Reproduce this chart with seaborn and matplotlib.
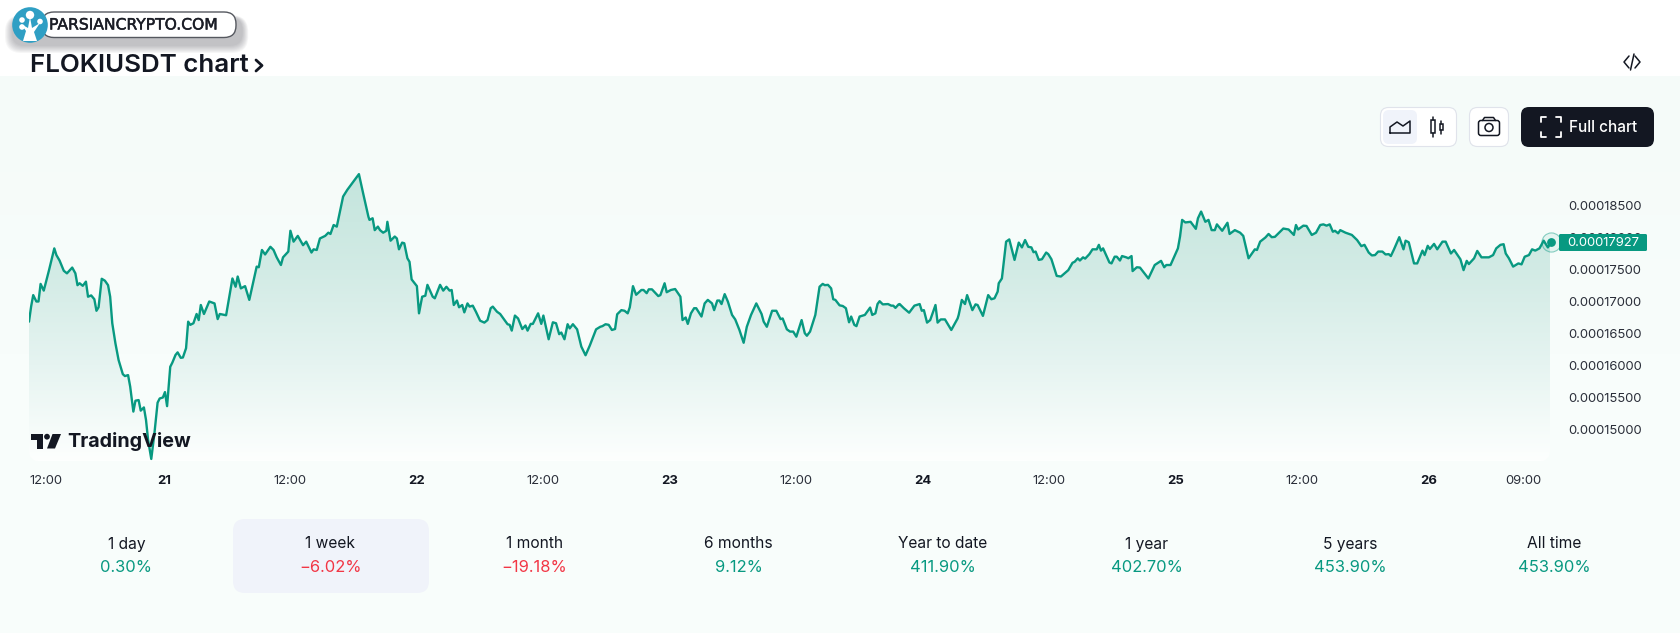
import matplotlib
matplotlib.use('Agg')
import matplotlib.pyplot as plt
import matplotlib.patches as mpatches
import matplotlib.patheffects as pe
from matplotlib.colors import LinearSegmentedColormap, to_rgba
from matplotlib.transforms import ScaledTranslation
import numpy as np
import pandas as pd
import seaborn as sns

# hours counted from the 21st 00:00, prices in 1e-8 USDT
hours = [
    -12.8, -12.6, -12.4, -12.1, -11.9, -11.7, -11.4, -10.9, -10.4, -10.2, -9.9, -9.5, -9.2, -8.7, -8.4, -8.2,
    -8.0, -7.7, -7.4, -7.2, -6.9, -6.6, -6.4, -6.2, -5.9, -5.6, -5.3, -5.1, -4.9, -4.6, -4.3, -3.9,
    -3.7, -3.4, -3.2, -2.9, -2.7, -2.4, -2.2, -1.9, -1.7, -1.5, -1.2, -0.9, -0.6, -0.4, -0.1, 0.1,
    0.3, 0.6, 0.8, 1.1, 1.3, 1.6, 1.8, 2.1, 2.3, 2.5, 2.8, 3.1, 3.3, 3.5, 3.8, 4.3,
    4.8, 5.1, 5.3, 5.9, 6.5, 6.8, 7.0, 7.3, 7.7, 8.1, 8.8, 9.0, 9.3, 9.6, 10.1, 10.4,
    10.7, 11.1, 11.3, 11.8, 12.0, 12.3, 12.7, 13.2, 13.5, 14.0, 14.2, 14.5, 14.8, 15.3, 15.6, 15.8,
    16.1, 16.4, 16.8, 17.0, 17.4, 18.5, 18.9, 19.4, 19.5, 19.8, 20.0, 20.3, 20.5, 20.8, 21.1, 21.2,
    21.5, 21.9, 22.1, 22.3, 22.6, 22.8, 23.1, 23.3, 23.5, 24.0, 24.2,
    24.5, 24.8, 25.0, 25.5, 25.7, 26.2, 26.5, 26.8, 27.1, 27.3, 27.5, 27.8, 28.0, 28.3, 28.5, 28.8,
    29.0, 29.3, 29.6, 30.0, 30.4, 30.7, 31.0, 31.2, 31.6, 31.9, 32.6, 32.8, 33.0, 33.3, 33.6, 34.0,
    34.3, 34.5, 34.8, 35.0, 35.5, 35.8, 36.0, 36.2, 36.5, 36.9, 37.2, 37.5, 37.7, 38.0, 38.3, 38.5,
    38.8, 39.2, 39.6, 40.0, 40.4, 41.0, 41.4, 41.6, 41.9, 42.2, 42.5, 42.8, 43.0, 43.4, 43.7, 44.0,
    44.2, 44.5, 44.8, 45.3, 45.5, 45.8, 46.0, 46.3, 46.9, 47.1, 47.5, 47.7, 48.1, 48.5, 49.0, 49.2,
    49.5, 49.7, 50.0, 50.3, 50.5, 51.0, 51.3, 51.6, 52.0, 52.2, 52.5, 52.7, 52.9, 53.2, 53.5, 53.9,
    54.2, 54.6, 55.0, 55.3, 55.7, 56.2, 56.7, 56.9, 57.2, 57.7, 58.1, 58.5, 58.7, 59.1, 59.4, 59.7,
    60.0, 60.5, 60.8, 61.0, 61.3, 61.8, 62.2, 62.5, 62.7, 63.0, 63.3, 63.5, 63.7, 64.1, 64.4, 64.7,
    65.0, 65.2, 65.5, 65.7, 66.0, 66.5, 67.0, 67.2, 67.5, 67.7, 67.9, 68.2, 68.7, 69.0, 69.2, 69.4,
    69.7, 69.8,
    70.2, 70.7, 71.2, 71.7, 71.9, 72.1, 72.4, 72.7, 73.2, 73.4, 73.7, 74.1, 74.7, 75.3, 75.4, 75.7,
    76.0, 76.2, 76.7, 77.0, 77.2, 77.7, 78.2, 78.5, 78.8, 79.1, 79.2, 79.5, 79.9, 80.2, 80.7, 81.1,
    81.4, 81.7, 82.0, 82.3, 82.5, 82.7, 83.0, 83.3, 83.7, 83.9, 84.2, 84.7, 85.1, 85.8, 86.2, 86.4,
    86.7, 86.9, 87.2, 87.4, 87.8, 88.1, 88.5, 88.7, 88.9, 89.1, 89.7, 89.9, 90.2, 90.4, 90.7, 90.9,
    91.3, 91.5, 91.8, 91.9, 92.3, 92.6, 93.4, 94.0, 94.6, 94.9, 95.1, 95.5, 96.2, 96.4, 96.6, 96.9,
    97.4, 97.9, 98.1, 98.4, 98.8, 99.1, 99.4, 99.7, 99.9, 100.4, 100.9, 101.1, 101.6, 102.1, 102.4, 102.9,
    103.5, 103.7, 104.0, 104.5, 104.8, 105.1, 105.4, 105.9, 106.2, 106.7, 107.2, 107.4, 107.6, 108.1, 108.4, 108.9,
    109.3, 109.7, 110.0, 110.3, 110.6, 110.9, 111.1, 111.4, 111.6, 112.1, 112.7, 113.2, 113.6, 113.9, 114.3, 114.6,
    114.9, 115.2, 115.6, 115.9, 116.2, 116.4, 116.7, 117.2, 117.6, 117.8, 118.1, 118.6, 118.9, 119.4, 119.6, 119.9,
    120.1, 120.5, 120.8, 121.3, 121.6, 122.1, 122.4, 123.0, 123.3, 123.6, 123.8, 124.3, 124.6, 125.0, 125.7, 126.1,
    126.4, 126.8, 127.1, 127.3, 127.6, 128.0, 128.5, 128.8, 129.1, 129.5, 129.8, 130.1, 130.5, 130.9, 131.3, 131.6,
]
prices = [
    16685, 16920, 17100, 17000, 17000, 17275, 17170, 17490, 17830, 17725, 17640, 17480, 17440, 17530, 17440, 17255,
    17285, 17245, 17310, 17075, 17095, 17035, 16855, 16910, 17355, 17325, 17255, 17075, 16660, 16345, 16085, 15865,
    15835, 15850, 15670, 15280, 15450, 15460, 15295, 15345, 15150, 14835, 14540, 14940, 15420, 15485, 15500, 15585,
    15365, 15980, 16045, 16165, 16205, 16120, 16125, 16270, 16685, 16635, 16660, 16805, 16710, 16945, 16805, 17000,
    16970, 16725, 16805, 16785, 17360, 17230, 17390, 17205, 17240, 17025, 17545, 17535, 17805, 17735, 17855, 17805,
    17690, 17570, 17690, 17780, 18105, 17935, 18025, 17880, 17935, 17765, 17815, 17805, 17985, 18025, 18075, 18055,
    18195, 18170, 18480, 18640, 18745, 18990, 18690, 18325, 18275, 18300, 18115, 18170, 18115, 18075, 18105, 18245,
    17950, 18015, 17985, 17815, 17920, 17910, 17675, 17620, 17345, 17240, 16815,
    17075, 17090, 17260, 17075, 17050, 17260, 17170, 17230, 17170, 17180, 16945, 17015, 16910, 16945, 16830, 16970,
    16920, 16935, 16840, 16700, 16670, 16710, 16895, 16920, 16840, 16805, 16645, 16635, 16545, 16780, 16735, 16570,
    16625, 16545, 16650, 16650, 16815, 16650, 16780, 16635, 16410, 16675, 16660, 16490, 16515, 16410, 16645, 16580,
    16645, 16565, 16295, 16160, 16310, 16565, 16605, 16615, 16645, 16635, 16555, 16570, 16800, 16865, 16855, 16815,
    16910, 17240, 17105, 17180, 17180, 17130, 17190, 17190, 17085, 17100, 17285, 17145, 17180, 17195, 17075, 16710,
    16750, 16650, 16815, 16895, 16895, 16765, 16970, 17025, 16970, 16865, 17015, 17015, 16960, 17115, 17000, 16790,
    16720, 16555, 16355, 16605, 16790, 16970, 16805, 16685, 16605, 16855, 16855, 16725, 16735, 16565, 16530, 16530,
    16450, 16710, 16505, 16465, 16530, 16790, 17230, 17275, 17255, 17260, 17205, 17035, 17025, 16940, 16930, 16895,
    16675, 16765, 16635, 16615, 16765, 16790, 16905, 16790, 16815, 16960, 17005, 16955, 16960, 16935, 16935, 16900,
    16955, 16960,
    16895, 16825, 16935, 16960, 16855, 16865, 16670, 16710, 16945, 16670, 16720, 16720, 16555, 16735, 16790, 17025,
    16960, 17100, 16865, 16955, 16945, 16775, 17100, 17035, 17050, 17155, 17285, 17360, 17935, 17970, 17650, 17920,
    17845, 17960, 17855, 17845, 17770, 17780, 17650, 17660, 17765, 17740, 17660, 17400, 17390, 17490, 17605, 17620,
    17675, 17640, 17690, 17670, 17740, 17815, 17815, 17885, 17795, 17830, 17610, 17595, 17700, 17700, 17640, 17710,
    17690, 17675, 17710, 17475, 17535, 17530, 17360, 17570, 17635, 17535, 17570, 17570, 17830, 18015, 18275, 18235,
    18245, 18135, 18300, 18405, 18245, 18275, 18115, 18115, 18205, 18105, 18230, 18055, 18115, 18075, 18025, 17675,
    17815, 17805, 17935, 18000, 18055, 18005, 18010, 18090, 18140, 18125, 18040, 18195, 18125, 18185, 18180, 18040,
    18075, 18195, 18205, 18185, 18205, 18090, 18105, 18065, 18115, 18075, 18040, 17960, 17865, 17885, 17765, 17720,
    17725, 17780, 17780, 17735, 17740, 17710, 17815, 18005, 17815, 17950, 17925, 17595, 17595, 17795, 17725, 17870,
    17820, 17900, 17815, 17935, 17935, 17750, 17805, 17660, 17490, 17635, 17585, 17675, 17790, 17690, 17690, 17725,
    17830, 17885, 17895, 17750, 17675, 17545, 17595, 17580, 17700, 17725, 17815, 17795, 17830, 17950, 17845, 17927,
]

y_ticks = [0.000185, 0.00018, 0.000175, 0.00017, 0.000165, 0.00016, 0.000155, 0.00015]
x_ticks = [-12, 0, 12, 24, 36, 48, 60, 72, 84, 96, 108, 120, 129]
x_labels = ['12:00', '21', '12:00', '22', '12:00', '23', '12:00', '24', '12:00', '25', '12:00', '26', '09:00']
periods = ['1 day', '1 week', '1 month', '6 months', 'Year to date', '1 year', '5 years', 'All time']
changes = ['0.30%', '−6.02%', '−19.18%', '9.12%', '411.90%', '402.70%', '453.90%', '453.90%']
last_price = 0.00017927

GREEN = '#089981'
RED = '#f23645'
DARK = '#131722'
PAGE = '#f8fdfb'

sns.set_theme(style='white')
plt.rcParams['font.family'] = ['Inter', 'DejaVu Sans']

W, H = 1681, 633
fig = plt.figure(figsize=(W / 100, H / 100), dpi=100, facecolor=PAGE)

# page furniture lives in pixel axes, one below and one above the chart
bg = fig.add_axes([0, 0, 1, 1], zorder=0)
page_cmap = LinearSegmentedColormap.from_list('page', ['#f5fbf9', '#f8fdfb', PAGE])
bg.imshow(np.linspace(0, 1, 64).reshape(-1, 1), cmap=page_cmap, aspect='auto', extent=[0, W, 633, 76], zorder=0)
bg.set_xlim(0, W)
bg.set_ylim(H, 0)
bg.axis('off')
bg.add_patch(mpatches.Rectangle((0, 0), W, 76, fc='white', ec='none'))

top = fig.add_axes([0, 0, 1, 1], zorder=5)
top.set_xlim(0, W)
top.set_ylim(H, 0)
top.axis('off')
top.patch.set_alpha(0)

# main chart
L, R, T, B = 29, 1550, 76, 461
ax = fig.add_axes([L / W, 1 - B / H, (R - L) / W, (B - T) / H], zorder=2)
ax.patch.set_alpha(0)

df = pd.DataFrame({'hour': hours, 'price': np.array(prices) / 1e8})

poly = ax.fill_between(df['hour'], df['price'], 0, facecolor='none', edgecolor='none')
cmap = LinearSegmentedColormap.from_list('fade', ['#c4e5dd', '#d2ebe5', '#e6f4f1', '#fdfffe'])
grad = ax.imshow(np.linspace(0, 1, 256).reshape(-1, 1), cmap=cmap, aspect='auto', origin='upper',
                 extent=[df['hour'].min(), df['hour'].max(), 0.00014508, df['price'].max()], zorder=1)
grad.set_clip_path(poly.get_paths()[0], transform=ax.transData)

sns.lineplot(data=df, x='hour', y='price', ax=ax, color=GREEN, linewidth=1.7, zorder=3)
ax.scatter([df['hour'].iloc[-1]], [last_price], s=190, facecolor=to_rgba(GREEN, 0.08), edgecolor=to_rgba(GREEN, 0.45),
           linewidth=0.8, zorder=4, clip_on=False)
ax.scatter([df['hour'].iloc[-1]], [last_price], s=28, color=GREEN, zorder=4, clip_on=False)

ax.set_xlim(-12.8, 131.5)
ax.set_ylim(0.00014508, 0.00020523)
ax.set_xlabel('')
ax.set_ylabel('')
for s in ax.spines.values():
    s.set_visible(False)

ax.yaxis.tick_right()
ax.set_yticks(y_ticks)
ax.set_yticklabels([f'{v:.8f}' for v in y_ticks])
ax.tick_params(axis='y', length=0, pad=13.5, labelsize=9.4, labelcolor='#2a2e39')
ax.set_xticks(x_ticks)
ax.set_xticklabels(x_labels)
ax.tick_params(axis='x', length=0, pad=10, labelsize=9.4, labelcolor='#2a2e39')
for lab, txt in zip(ax.get_xticklabels(), x_labels):
    if ':' not in txt:
        lab.set_fontweight('bold')
        lab.set_color(DARK)
first = ax.get_xticklabels()[0]
first.set_transform(first.get_transform() + ScaledTranslation(8.5 / 100, 0, fig.dpi_scale_trans))

# rounded bottom corners of the pane
r = 9
a = np.linspace(0, np.pi / 2, 12)
for cx, sx in [(L, 1), (R, -1)]:
    arc = [(cx + sx * (r - r * np.cos(t)), B - r + r * np.sin(t)) for t in a]
    ax.add_patch(mpatches.Polygon([(cx, B)] + arc, fc=PAGE, ec='none', transform=bg.transData, zorder=2,
                                  clip_on=False))

# price tag
top.add_patch(mpatches.FancyBboxPatch((1560, 235), 86, 15, boxstyle='round,pad=1,rounding_size=1.5',
                                      fc=GREEN, ec='none'))
top.text(1603, 242.7, f'{last_price:.8f}', color='white', fontsize=9.4, ha='center', va='center')

# title and header
bg.text(30, 65, 'FLOKIUSDT chart', fontsize=18.7, fontweight='semibold', color=DARK, va='center', ha='left')
bg.plot([256, 262, 256], [60, 65.5, 71], color=DARK, lw=2.0)
for xs, ys in [([1629, 1624, 1629], [56, 62, 68]), ([1635, 1640, 1635], [56, 62, 68]), ([1634, 1630.5], [54, 70])]:
    bg.plot(xs, ys, color=DARK, lw=1.1)

# toolbar
def box(a, x0, y0, x1, y1, r, fc, ec='none', lw=0.0, z=1):
    a.add_patch(mpatches.FancyBboxPatch((x0 + r, y0 + r), x1 - x0 - 2 * r, y1 - y0 - 2 * r,
                                        boxstyle=f'round,pad={r},rounding_size={r}', fc=fc, ec=ec, lw=lw, zorder=z))

box(bg, 1380.5, 107.5, 1456.5, 146.5, 8, 'white', '#e0e3eb', 0.8)
box(bg, 1383, 110, 1417, 144, 6, '#f0f3fa')
box(bg, 1469.5, 107.5, 1508.5, 146.5, 8, 'white', '#e0e3eb', 0.8)
box(bg, 1521, 107, 1654, 147, 8, DARK)
bg.plot([1390, 1390, 1397, 1403, 1410, 1410, 1390], [133, 127, 122, 126, 121, 133, 133], color=DARK, lw=1.1, zorder=3)
for cx, y0, y1, w0, w1 in [(1433, 117, 137, 120, 133), (1441.5, 121, 134, 124, 130)]:
    bg.plot([cx, cx], [y0, w0], color=DARK, lw=1.1, zorder=3)
    bg.plot([cx, cx], [w1, y1], color=DARK, lw=1.1, zorder=3)
    bg.add_patch(mpatches.Rectangle((cx - 1.8, w0), 3.6, w1 - w0, fc='none', ec=DARK, lw=1.1, zorder=3))
box(bg, 1478.5, 120.5, 1499.5, 135.5, 2.5, 'none', DARK, 1.1, 3)
bg.plot([1482.5, 1484.5, 1493.5, 1495.5], [120.5, 117.5, 117.5, 120.5], color=DARK, lw=1.1, zorder=3)
bg.add_patch(mpatches.Circle((1489, 127.5), 4, fc='none', ec=DARK, lw=1.1, zorder=3))
for sx, sy in [(1, 1), (1, -1), (-1, 1), (-1, -1)]:
    cx, cy = 1551 - sx * 10, 127 - sy * 10
    bg.plot([cx + sx * 5, cx, cx], [cy, cy, cy + sy * 5], color='white', lw=1.3, zorder=3)
bg.text(1569, 127.5, 'Full chart', color='white', fontsize=11, fontweight='medium', va='center', ha='left', zorder=3)

# period strip
box(bg, 233, 519, 429, 593, 12, '#f0f3fa')
for i, (p, c) in enumerate(zip(periods, changes)):
    cx = 126.5 + i * 204
    bg.text(cx, 544, p, fontsize=11.2, color=DARK, ha='center', va='center', zorder=3)
    bg.text(cx, 568, c, fontsize=11.9, color=RED if c.startswith('−') else GREEN, ha='center', va='center', zorder=3)

# TradingView mark
top.add_patch(mpatches.Rectangle((31, 434), 12, 5.5, fc=DARK, ec='none'))
top.add_patch(mpatches.Rectangle((37.5, 434), 5.5, 14.5, fc=DARK, ec='none'))
top.add_patch(mpatches.Circle((47, 436.7), 2.9, fc=DARK, ec='none'))
top.add_patch(mpatches.Polygon([(52.5, 434), (61, 434), (55, 448.5), (47, 448.5)], fc=DARK, ec='none'))
top.text(67, 441.5, 'TradingView', fontsize=14.2, fontweight='bold', color=DARK, va='center', ha='left')

# site badge with its soft shadow
for k in range(8):
    grow = 9 - k
    box(top, 14 - grow, 18 - grow * 0.3, 241 + grow * 0.8, 44 + grow, 12 + grow / 2, '#555560', 'none', 0, 1)
    top.patches[-1].set_alpha(0.05)
box(top, 42, 12, 236, 37.5, 12, 'white', '#55585f', 1.0, 2)
top.text(49, 25, 'PARSIANCRYPTO.COM', fontsize=11.2, color='#1b1d26', va='center', ha='left',
         zorder=3, family=['DejaVu Sans'], path_effects=[pe.withStroke(linewidth=0.35, foreground='#1b1d26')])
top.add_patch(mpatches.Circle((30, 25), 17.8, fc='#2f9fc4', ec='none', zorder=3))
top.add_patch(mpatches.Polygon([(23, 41), (26, 31), (21, 24), (28, 28), (30, 17), (32, 28), (40, 23), (34, 32), (37, 41)],
                               fc='white', ec='none', zorder=4))
for cx, cy, r in [(30, 15, 4.2), (40, 21.5, 2.8), (22, 20, 2.8), (22, 27, 2.8)]:
    top.add_patch(mpatches.Circle((cx, cy), r, fc='white', ec='none', zorder=4))

fig.savefig('out.png', dpi=100, facecolor=fig.get_facecolor())
